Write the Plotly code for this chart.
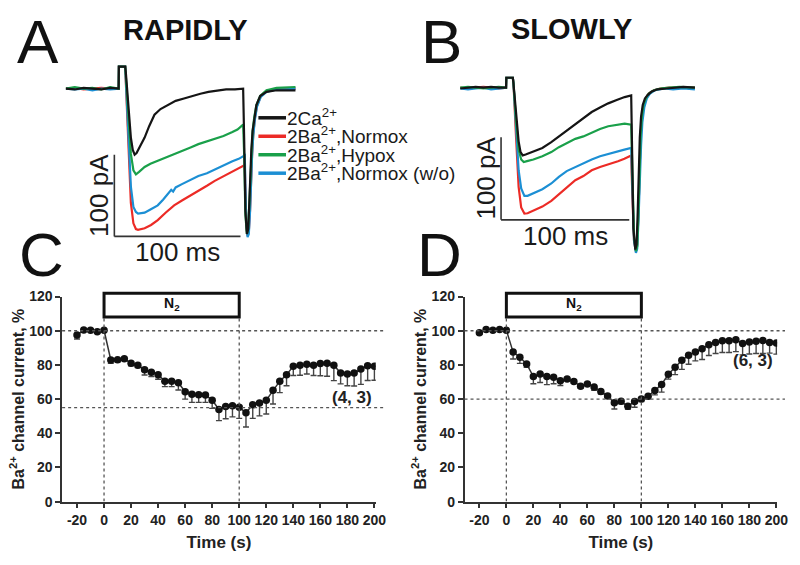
import plotly.graph_objects as go

W, H = 800, 565
FONT = "Liberation Sans, Arial, sans-serif"

# ---------------- Panel A / B : current traces (time ms, current pA) ----------------
A_BLACK = [(-47,0),(-40,-1),(-33,1),(-26,0),(-19,-1),(-12,1),(-5.2,0),(-5,27),(0,27),(0.5,20),(2.5,-25),(4.5,-60),(6,-75),(7.5,-81),(9,-79),(12,-70),(15.4,-60),(19,-46),(23.2,-32),(28,-25),(33.6,-20),(40,-15),(46.6,-12),(53,-9),(59.6,-6.3),(66,-4),(72.7,-2.4),(80,-1),(87,-1),(93.5,0),(94.3,-60),(95.3,-150),(96.5,-178),(97.5,-172),(98.4,-140),(99.2,-100),(100,-75),(101,-52),(102.3,-35),(104,-20),(107,-9),(112,-4),(120,-2),(128,-2),(135,-2)]
A_RED = [(-47,0),(-40,1),(-33,-1),(-26,0),(-19,1),(-12,0),(-5.2,0),(-5,27),(0,27),(0.5,8),(2.5,-70),(4.5,-140),(6.5,-165),(8.5,-172),(10.2,-173),(15.4,-171),(20.5,-167),(25.8,-161),(32,-152),(38.8,-143),(45,-137),(51.8,-131),(58,-125),(64.8,-119),(71,-113),(77.9,-107.5),(85,-101),(90,-97),(94.8,-93.7),(95.3,-125),(96,-168),(97,-180),(98,-175),(99,-148),(99.8,-108),(100.6,-80),(101.5,-56),(102.8,-36),(104.5,-21),(107.5,-9),(112,-3),(120,-1),(128,0),(135,0)]
A_GREEN = [(-47,0),(-40,2),(-33,0),(-26,1),(-19,-1),(-12,2),(-5.2,0),(-5,27),(0,27),(0.5,15),(2.5,-40),(4.5,-80),(6.5,-100),(8.5,-105),(11,-102),(15.4,-96),(20,-92),(25.8,-88.5),(32,-84),(38.8,-80),(45,-76),(51.8,-72),(58,-68),(64.8,-64.7),(71,-61),(77.9,-58),(85,-53),(89,-50),(93.5,-44),(94.3,-80),(95.3,-155),(96.5,-178),(97.5,-172),(98.4,-140),(99.2,-100),(100,-75),(101,-52),(102.3,-35),(104,-20),(107,-9),(112,-2),(120,1),(128,2),(135,2)]
A_BLUE = [(-47,0),(-40,-1),(-33,0),(-26,-2),(-19,0),(-12,-1),(-5.2,0),(-5,27),(0,27),(0.5,10),(2.5,-60),(4.5,-120),(6.5,-145),(8.5,-151),(10.2,-153),(15.4,-152),(20,-148),(25.8,-143),(30,-136),(34,-128),(36.5,-124),(38,-126),(40,-121),(45,-117),(51.8,-111.5),(58,-107),(64.8,-103.6),(71,-99),(77.9,-94.8),(85,-89),(90,-86),(94.8,-81.7),(95.3,-120),(96,-165),(97,-182),(98,-178),(99,-150),(99.8,-110),(100.6,-82),(101.5,-58),(102.8,-38),(104.5,-22),(107.5,-10),(112,-4),(120,-1),(128,-1),(135,0)]

B_BLACK = [(-41,-1),(-35,0),(-29,1),(-23,0),(-17,1),(-11,0),(-5.3,0),(-5.1,12),(0,12),(0.5,5),(2.5,-35),(4.5,-65),(6,-78),(7.7,-82),(10,-81),(15,-78),(23,-73),(30,-66),(35.9,-59),(42,-52),(48.7,-44.7),(55,-37),(61.5,-29.5),(68,-24),(74.4,-19),(81,-15),(87.2,-11.4),(92.3,-9.4),(93,-90),(94,-170),(95.5,-196),(96.5,-190),(97.4,-150),(98.2,-100),(99,-60),(100,-35),(101.3,-21),(103,-13),(105.1,-9),(108,-5),(112.8,-2),(120,-1),(127,0),(133,1),(142,0)]
B_RED = [(-41,0),(-35,-1),(-29,0),(-23,1),(-17,0),(-11,-1),(-5.3,0),(-5.1,12),(0,12),(0.5,5),(2.5,-60),(4.5,-120),(6.5,-145),(9,-152.5),(11.5,-152),(16,-149),(23,-144),(30,-137),(35.9,-129),(42,-120),(48.7,-112),(55,-107),(61.5,-100),(68,-96),(74.4,-93),(82,-89),(87,-86),(92.3,-82),(93.2,-130),(94.5,-185),(96,-198),(97,-190),(98,-150),(98.8,-100),(99.6,-62),(100.6,-36),(102,-21),(104,-12),(106,-7),(110,-3),(115,-1),(122,0),(130,0),(142,0)]
B_GREEN = [(-41,0),(-35,1),(-29,0),(-23,-1),(-17,0),(-11,1),(-5.3,0),(-5.1,12),(0,12),(0.5,5),(2.5,-40),(4.5,-75),(6.5,-87),(8.5,-90),(11,-89),(16,-87),(23,-83),(30,-78),(35.9,-72),(42,-67),(48.7,-62),(55,-59),(61.5,-54.5),(68,-50),(74.4,-46.7),(81,-45),(87.2,-43.5),(92.3,-44.7),(93.2,-100),(94.5,-180),(96,-198),(97,-192),(98,-150),(98.8,-100),(99.6,-60),(100.6,-35),(102,-20),(104,-12),(106,-7),(110,-3),(115,-1),(122,0),(130,1),(142,0)]
B_BLUE = [(-41,-1),(-35,-2),(-29,-1),(-23,0),(-17,-2),(-11,-1),(-5.3,0),(-5.1,12),(0,12),(0.5,5),(2.5,-50),(4.5,-100),(6.5,-122),(9,-131),(11.5,-131),(16,-128),(23,-123),(30,-116),(35.9,-108),(42,-101),(48.7,-96),(55,-92),(61.5,-87),(68,-83),(74.4,-80),(82,-77),(87,-75),(92.3,-73),(93.2,-120),(94.5,-185),(96,-200),(97,-195),(98,-160),(99,-110),(100,-70),(101,-42),(102.5,-24),(104.5,-13),(107,-7),(111,-3),(118,-1),(125,-2),(133,-1),(142,-2)]

TRACE_LABELS = ["2Ca<sup>2+</sup>", "2Ba<sup>2+</sup>,Normox", "2Ba<sup>2+</sup>,Hypox", "2Ba<sup>2+</sup>,Normox (w/o)"]
TRACE_COLORS = ["#151515", "#ec2b26", "#1aa04a", "#1c8fd4"]

SCALE_MS = 100
SCALE_PA = 100
A_BAR_ORIGIN = (-8.6, -181)
B_BAR_ORIGIN = (-9.2, -160)

# ---------------- Panel C / D : time course ----------------
TIME_S = list(range(-20, 201, 5))
C_MEAN = [97.5,100.5,100.3,99.4,100.3, 82.9,83,83.6,81,79.8, 77.2,75.7,74.3,70.4,70.4,
          69.6,64.3,62.9,62.6,62.4, 59.4,53.9,55.7,56.1,55.2, 52,56.7,57.7,59.4,65.2,
          70.5,74.2,79.3,79.8,80.4, 79.8,80.8,81,79.8,75.3, 74.7,75.3,77.6,79.5,79.3]
C_SEM = [2.3,0.5,0.5,0.5,0.5, 2,1.3,1,1.5,1.3, 3.1,2.5,2.7,3.1,3.1,
         4.3,4.3,4.8,4.5,4.3, 4.8,6.5,7.2,6.5,6.5, 8.3,8,7.5,8.1,8.1,
         6.7,6.4,5.5,5.8,5.7, 6,7.1,7.6,9,6.4, 6.9,7.6,9,8.6,8.3]
D_MEAN = [98.8,100.7,100.3,100.7,100.3, 87.5,84.5,80.6,73.2,74.7, 73.2,72.8,70.8,71.8,70.3,
          67.5,68.9,67.1,64.5,61.8, 57.8,58.7,55.8,58.6,60, 61.7,65,68.6,74.5,78.7,
          82.7,85.7,87.5,89.5,91.8, 93.1,94.1,94.1,94.8,92.5, 93.4,93.9,94.3,93.2,92.9]
D_SEM = [0.8,0.4,0.4,0.4,0.4, 4,3.6,2,4.2,5, 4.7,3.8,2.8,1,1,
         1,1,1.9,1.5,1, 3.6,1.5,1.8,3.4,1.5, 1.5,2.5,4.5,2.8,4.4,
         5.3,5.3,5.1,6.3,6.3, 6.4,6.8,6.8,7,6.6, 7,7.2,7.6,6.3,6.6]
C_REF_LINES = [100, 55]
D_REF_LINES = [100, 60]
N2_START, N2_END = 0, 100
BAR_BOTTOM, BAR_TOP = 108, 122
C_N_LABEL = "(4, 3)"
D_N_LABEL = "(6, 3)"
X_TICKS = list(range(-20, 201, 20))
X_TICKTEXT = [str(v) for v in X_TICKS]
Y_TICKS = list(range(0, 121, 20))


def px(x):
    return x / W


def py(y):
    return 1 - y / H


fig = go.Figure()

# draw order: red, blue, green, black
order = [1, 3, 2, 0]
for panel, series, xa, ya in [("A", [A_BLACK, A_RED, A_GREEN, A_BLUE], "x", "y"),
                              ("B", [B_BLACK, B_RED, B_GREEN, B_BLUE], "x2", "y2")]:
    for i in order:
        pts = series[i]
        fig.add_trace(go.Scatter(
            x=[p[0] for p in pts], y=[p[1] for p in pts], mode="lines",
            line=dict(color=TRACE_COLORS[i], width=2.2), name=TRACE_LABELS[i],
            showlegend=False, xaxis=xa, yaxis=ya, hoverinfo="skip"))

for mean, sem, xa, ya in [(C_MEAN, C_SEM, "x3", "y3"), (D_MEAN, D_SEM, "x4", "y4")]:
    fig.add_trace(go.Scatter(
        x=TIME_S, y=mean, mode="lines+markers",
        line=dict(color="#333333", width=1.5),
        marker=dict(color="#111111", size=7.5),
        error_y=dict(type="data", symmetric=False, array=[0] * len(sem), arrayminus=sem,
                     color="#444444", thickness=1.4, width=3),
        showlegend=False, xaxis=xa, yaxis=ya))

shapes = []
annotations = []

# scale bars
for (x0, y0), xa, ya in [(A_BAR_ORIGIN, "x", "y"), (B_BAR_ORIGIN, "x2", "y2")]:
    shapes.append(dict(type="line", xref=xa, yref=ya, x0=x0, x1=x0, y0=y0, y1=y0 + SCALE_PA,
                       line=dict(color="#333333", width=1.6)))
    shapes.append(dict(type="line", xref=xa, yref=ya, x0=x0, x1=x0 + SCALE_MS, y0=y0, y1=y0,
                       line=dict(color="#333333", width=1.6)))
    annotations.append(dict(xref=xa, yref=ya, x=x0 + SCALE_MS / 2, y=y0, text=f"{SCALE_MS} ms",
                            showarrow=False, xanchor="center", yanchor="top", yshift=1,
                            font=dict(family=FONT, size=26, color="#1a1a1a")))
    annotations.append(dict(xref=xa, yref=ya, x=x0, y=y0 + SCALE_PA / 2, text=f"{SCALE_PA} pA",
                            showarrow=False, xanchor="right", yanchor="middle", textangle=-90, xshift=1,
                            font=dict(family=FONT, size=26, color="#1a1a1a")))

# manual legend for panel A
LEG_Y = [113, 132, 151, 170]
for i in range(4):
    shapes.append(dict(type="line", xref="paper", yref="paper", x0=px(262), x1=px(290),
                       y0=py(LEG_Y[i]), y1=py(LEG_Y[i]), line=dict(color=TRACE_COLORS[i], width=3.5)))
    annotations.append(dict(xref="paper", yref="paper", x=px(289), y=py(LEG_Y[i] - 1), text=TRACE_LABELS[i],
                            showarrow=False, xanchor="left", yanchor="middle",
                            font=dict(family=FONT, size=19, color="#1a1a1a")))

# panels C / D decorations
for xa, ya, refs, nlab, nx, ny in [("x3", "y3", C_REF_LINES, C_N_LABEL, 183.5, 61),
                                    ("x4", "y4", D_REF_LINES, D_N_LABEL, 183, 82.5)]:
    for r in refs:
        shapes.append(dict(type="line", xref=xa + " domain", yref=ya, x0=0, x1=1.025, y0=r, y1=r,
                           line=dict(color="#555555", width=1.3, dash="dot")))
    for xv in (N2_START, N2_END):
        shapes.append(dict(type="line", xref=xa, yref=ya, x0=xv, x1=xv, y0=0, y1=BAR_BOTTOM,
                           line=dict(color="#555555", width=1.3, dash="dot")))
    shapes.append(dict(type="rect", xref=xa, yref=ya + " domain", x0=N2_START, x1=N2_END,
                       y0=BAR_BOTTOM / 120, y1=BAR_TOP / 120, fillcolor="white",
                       line=dict(color="#111111", width=3)))
    annotations.append(dict(xref=xa, yref=ya, x=(N2_START + N2_END) / 2, y=(BAR_BOTTOM + BAR_TOP) / 2 + 0.5,
                            text="N<sub>2</sub>", showarrow=False, xanchor="center", yanchor="middle",
                            font=dict(family=FONT, size=14, color="#111111", weight="bold")))
    annotations.append(dict(xref=xa, yref=ya, x=nx, y=ny, text=nlab, showarrow=False,
                            xanchor="center", yanchor="middle",
                            font=dict(family=FONT, size=17, color="#222222", weight="bold")))

# panel letters and headings
for txt, x, y in [("A", 39, 34), ("B", 448, 34), ("C", 42, 254), ("D", 446, 254)]:
    annotations.append(dict(xref="paper", yref="paper", x=px(x), y=py(y), text=txt, showarrow=False,
                            xanchor="center", yanchor="middle",
                            font=dict(family=FONT, size=62, color="#111111")))
for txt, x, y in [("RAPIDLY", 188, 23), ("SLOWLY", 579, 22)]:
    annotations.append(dict(xref="paper", yref="paper", x=px(x), y=py(y), text=txt, showarrow=False,
                            xanchor="center", yanchor="middle",
                            font=dict(family=FONT, size=29, color="#111111", weight="bold")))

hidden = dict(visible=False, showgrid=False, zeroline=False)
axfont = dict(family=FONT, size=14, color="#222222", weight="bold")
common_x = dict(showline=True, linecolor="#333333", linewidth=1.5, ticks="outside", ticklen=5,
                tickwidth=1.5, tickcolor="#333333", showgrid=False, zeroline=False,
                tickvals=X_TICKS, ticktext=X_TICKTEXT, tickfont=axfont,
                title=dict(text="Time (s)", font=dict(family=FONT, size=17, color="#222222", weight="bold"),
                           standoff=9))
common_y = dict(showline=True, linecolor="#333333", linewidth=1.5, ticks="outside", ticklen=5,
                tickwidth=1.5, tickcolor="#333333", showgrid=False, zeroline=False,
                tickvals=Y_TICKS, tickfont=axfont, range=[0, 120],
                title=dict(text="Ba<sup>2+</sup> channel current, %",
                           font=dict(family=FONT, size=16, color="#222222", weight="bold"), standoff=1))

fig.update_layout(
    width=W, height=H, margin=dict(l=0, r=0, t=0, b=0),
    paper_bgcolor="white", plot_bgcolor="rgba(0,0,0,0)",
    font=dict(family=FONT),
    xaxis=dict(domain=[px(63), px(306)], range=[-50, 140], anchor="y", **hidden),
    yaxis=dict(domain=[py(251), py(53.6)], range=[-200, 35], anchor="x", **hidden),
    xaxis2=dict(domain=[px(455), px(708.5)], range=[-50, 145], anchor="y2", **hidden),
    yaxis2=dict(domain=[py(256.25), py(60.75)], range=[-205, 25], anchor="x2", **hidden),
    xaxis3=dict(domain=[px(63), px(381)], range=[-31, 201], anchor="y3", **common_x),
    yaxis3=dict(domain=[py(508), py(297)], anchor="x3", **common_y),
    xaxis4=dict(domain=[px(471), px(788)], range=[-31, 200.6], anchor="y4", **common_x),
    yaxis4=dict(domain=[py(508), py(297)], anchor="x4", **common_y),
    shapes=shapes, annotations=annotations, showlegend=False,
)

fig.write_html("out.html", config={"displayModeBar": False},
               post_script="document.body.style.margin='0';document.body.style.overflow='hidden';")
